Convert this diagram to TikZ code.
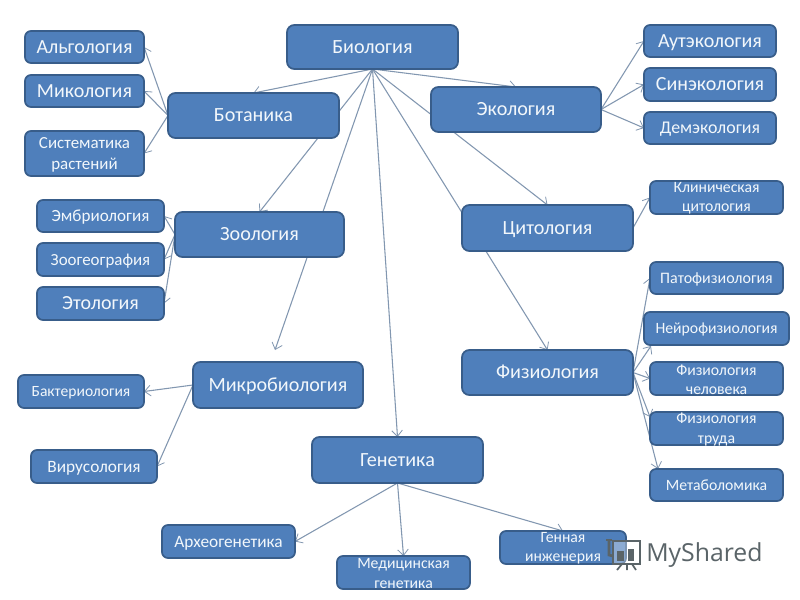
\documentclass[tikz,border=0pt]{standalone}
\usepackage{fontspec}
\setmainfont{Carlito}
\newfontfamily\wmfont{Open Sans}
\usetikzlibrary{arrows.meta,backgrounds,calc}
\definecolor{boxfill}{HTML}{4F7FBB}
\definecolor{boxline}{HTML}{385D8A}
\definecolor{linkc}{HTML}{8297B0}
\definecolor{txtc}{HTML}{F2F7FB}
\definecolor{wmc}{HTML}{5A6468}
\newcommand{\twolines}[3][14.4pt]{\smash{\parbox[c]{80pt}{\centering\baselineskip=#1 #2\\#3}}}
\tikzset{
  x=0.75pt,y=-0.75pt,
  card/.style={draw=boxline,fill=boxfill,line width=1.3pt,rounded corners=5.5pt,inner sep=0pt,outer sep=0pt,text=txtc,align=center,text depth=0pt},
  sz/.style 2 args={minimum width=#1*0.75pt,minimum height=#2*0.75pt},
  big/.style={card,text height=9.7pt,font=\fontsize{15.1}{18}\selectfont},
  mid/.style={card,rounded corners=4.5pt,text height=9.6pt,font=\fontsize{15}{18}\selectfont},
  small/.style={card,rounded corners=4.5pt,text height=8.3pt,font=\fontsize{13}{16}\selectfont},
  tiny/.style={card,rounded corners=4.5pt,text height=7.5pt,font=\fontsize{11.8}{14}\selectfont},
  link/.style={draw=linkc,line width=0.8pt,-{Straight Barb[length=4.5pt,width=8pt,line width=0.6pt]}}
}
\begin{document}
\begin{tikzpicture}
\useasboundingbox (0,0) rectangle (800,600);
\node[big,sz={171}{44}] (bio) at (372.5,47) {Биология};
\node[big,sz={171}{45}] (bot) at (253.5,115.5) {Ботаника};
\node[big,sz={169}{45}] (zoo) at (259.5,234.5) {Зоология};
\node[big,sz={170}{46}] (mic) at (278,385) {Микробиология};
\node[big,sz={171}{46}] (gen) at (397.5,460) {Генетика};
\node[big,sz={170}{45}] (eco) at (516,109.5) {Экология};
\node[big,sz={171}{46}] (cyt) at (547.5,228) {Цитология};
\node[big,sz={171}{45}] (phy) at (547.5,372.5) {Физиология};
\node[mid,sz={119}{32}] (alg) at (84.5,47) {Альгология};
\node[mid,sz={119}{32}] (myc) at (84.5,91) {Микология};
\node[small,font=\fontsize{12.7}{16}\selectfont,sz={119}{45}] (sys) at (84.5,153.5) {\twolines[16pt]{Систематика}{растений}};
\node[small,font=\fontsize{12.8}{16}\selectfont,sz={127}{32}] (emb) at (100.5,216) {Эмбриология};
\node[small,font=\fontsize{12.7}{16}\selectfont,sz={127}{33}] (zgg) at (100.5,259.5) {Зоогеография};
\node[mid,sz={127}{33}] (eto) at (100.5,303.5) {Этология};
\node[tiny,font=\fontsize{11.7}{14}\selectfont,sz={126}{33}] (bac) at (81,391.5) {Бактериология};
\node[small,sz={126}{33}] (vir) at (94,466.5) {Вирусология};
\node[small,sz={133}{33}] (arc) at (228.5,541.5) {Археогенетика};
\node[tiny,sz={133}{33}] (med) at (403.5,572.5) {\twolines{Медицинская}{генетика}};
\node[tiny,sz={126}{33}] (gny) at (563,547.5) {\twolines{Генная}{инженерия}};
\node[mid,sz={132}{32}] (aut) at (710,41) {Аутэкология};
\node[mid,sz={132}{33}] (syn) at (710,84.5) {Синэкология};
\node[small,font=\fontsize{13.4}{16}\selectfont,sz={132}{32}] (dem) at (710,128) {Демэкология};
\node[tiny,sz={133}{33}] (kli) at (716.5,197.5) {\twolines{Клиническая}{цитология}};
\node[tiny,font=\fontsize{12}{14}\selectfont,sz={133}{32}] (pat) at (716.5,278) {Патофизиология};
\node[tiny,sz={145}{33}] (nei) at (716.5,328.5) {Нейрофизиология};
\node[tiny,sz={133}{33}] (fch) at (716.5,378.5) {\twolines{Физиология}{человека}};
\node[tiny,sz={133}{33}] (ftr) at (716.5,428.5) {\twolines{Физиология}{труда}};
\node[tiny,sz={133}{32}] (met) at (716.5,485) {Метаболомика};
\coordinate (micend) at (275,350);
% watermark
\node[font=\wmfont\fontsize{18.6}{22}\selectfont,text=wmc,inner sep=0pt,anchor=west] (wm) at (646,555) {MyShared};
\draw[wmc,line width=1.6pt,fill=white,fill opacity=0.35] (613,541) rectangle (640,564);
\draw[wmc,line width=2pt] (609,540) -- (609,555) -- (613,556);
\draw[wmc,line width=1.5pt] (606,540) -- (612,540);
\fill[wmc] (617,551) rectangle (624,561);
\fill[wmc] (628,549) rectangle (634,561);
\draw[wmc,line width=1.3pt] (622,564) -- (617,570) (627,564) -- (627,570) (632,564) -- (636,570);
\begin{pgfonlayer}{background}
\fill[white] (0,0) rectangle (800,600);
\draw[link] (bio.south) -- (bot.north);
\draw[link] (bio.south) -- (zoo.north);
\draw[link] (bio.south) -- (micend);
\draw[link] (bio.south) -- (gen.north);
\draw[link] (bio.south) -- (eco.north);
\draw[link] (bio.south) -- (cyt.north);
\draw[link] (bio.south) -- (phy.north);
\draw[link] (bot.west) -- (alg.east);
\draw[link] (bot.west) -- (myc.east);
\draw[link] (bot.west) -- (sys.east);
\draw[link] (zoo.west) -- (emb.east);
\draw[link] (zoo.west) -- (zgg.east);
\draw[link] (zoo.west) -- (eto.east);
\draw[link] (mic.west) -- (bac.east);
\draw[link] (mic.west) -- (vir.east);
\draw[link] (gen.south) -- (arc.east);
\draw[link] (gen.south) -- (med.north);
\draw[link] (gen.south) -- (gny.north);
\draw[link] (eco.east) -- (aut.west);
\draw[link] (eco.east) -- (syn.west);
\draw[link] (eco.east) -- (dem.west);
\draw[link] (cyt.east) -- (kli.west);
\draw[link] (phy.east) -- (pat.west);
\draw[link] (phy.east) -- ($(nei.south west)+(7,1)$);
\draw[link] (phy.east) -- (fch.west);
\draw[link] (phy.east) -- ($(ftr.north west)+(0,5)$);
\draw[link] (phy.east) -- ($(met.north west)+(8,0)$);
\end{pgfonlayer}
\end{tikzpicture}
\end{document}
